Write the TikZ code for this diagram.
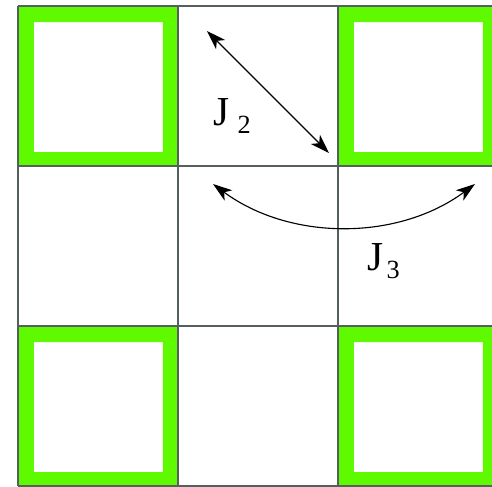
\documentclass[tikz,border=0pt]{standalone}
\usepackage{fontspec}
\setmainfont{Liberation Serif}
\usetikzlibrary{arrows.meta}
\definecolor{latGreen}{RGB}{96,250,0}
\definecolor{latGrid}{RGB}{85,95,95}

\begin{document}
\begin{tikzpicture}[
  x=0.01875cm, y=-0.01875cm,
  plaq/.style={fill=latGreen, even odd rule},
  gridline/.style={draw=latGrid, line width=0.6pt},
  coup/.style={{Stealth[length=3.6mm,width=2.4mm,inset=1mm]}-{Stealth[length=3.6mm,width=2.4mm,inset=1mm]}, line width=0.6pt},
  lab/.style={anchor=base west, inner sep=0pt, font=\rmfamily\fontsize{22}{26}\selectfont},
]
\useasboundingbox (0,0) rectangle (492,487);
\clip (0,0) rectangle (492,487);
% green plaquettes
\foreach \x/\y in {18/6, 338/6, 18/326, 338/326}
  \fill[plaq] (\x,\y) rectangle ++(160,160) (\x+16,\y+16) rectangle ++(129,130);
% lattice
\foreach \x in {18,178,338}
  \draw[gridline] (\x,6) -- (\x,486);
\foreach \y in {6,166,326,486}
  \draw[gridline] (18,\y) -- (498,\y);
% couplings
\coordinate (j2a) at (207,31);
\coordinate (j2b) at (329,153);
\coordinate (j3a) at (213,184);
\coordinate (j3b) at (475,184);
\draw[coup] (j2a) -- (j2b);
\draw[coup] (j3a) .. controls (290,241) and (398,241) .. (j3b);
\node[lab] (labJ2) at (213,125) {J\hspace{0.2em}\raisebox{-0.2em}{\fontsize{14}{14}\selectfont 2}};
\node[lab] (labJ3) at (367,270) {J\hspace{0.08em}\raisebox{-0.2em}{\fontsize{14}{14}\selectfont 3}};
\end{tikzpicture}
\end{document}
